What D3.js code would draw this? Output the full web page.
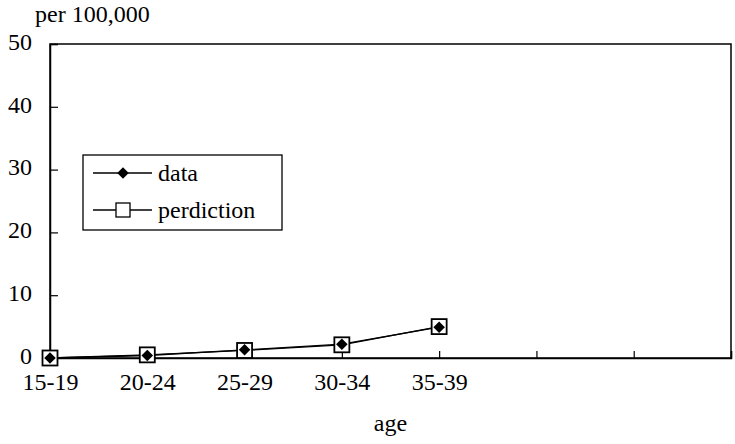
<!DOCTYPE html>
<html>
<head>
<meta charset="utf-8">
<script src="https://cdn.jsdelivr.net/npm/d3@7"></script>
<style>
  body { margin: 0; background: #fff; }
  text { font-family: "Liberation Serif", "Times New Roman", serif; fill: #000; }
</style>
</head>
<body>
<div id="chart"></div>
<script>
// categories along the x axis (last three have no label)
var ageGroups = ["15-19", "20-24", "25-29", "30-34", "35-39", "40-44", "45-49", "50-54"];
var ageLabels = ["15-19", "20-24", "25-29", "30-34", "35-39", "", "", ""];
var dataValues = [0, 0.4, 1.3, 2.2, 4.9];
var predictionValues = [0, 0.5, 1.2, 2.1, 5.0];
var yTicks = [0, 10, 20, 30, 40, 50];

var margin = { top: 44, right: 4, bottom: 86, left: 50 };
var width = 735 - margin.left - margin.right,
  height = 444 - margin.top - margin.bottom;

var svg = d3.select("#chart")
  .append("svg")
  .attr("width", width + margin.left + margin.right)
  .attr("height", height + margin.top + margin.bottom)
  .append("g")
  .attr("transform", "translate(" + margin.left + "," + margin.top + ")");

var x = d3.scalePoint()
  .domain(ageGroups)
  .range([0, width]);

var y = d3.scaleLinear()
  .domain([0, 50])
  .range([height, 0]);

// frame
svg.append("rect")
  .attr("x", 0).attr("y", 0)
  .attr("width", width).attr("height", height)
  .attr("fill", "none")
  .attr("stroke", "#000")
  .attr("stroke-width", 1.5);

var xAxis = d3.axisBottom(x)
  .tickSize(-7)
  .tickPadding(15)
  .tickFormat(function (d, i) { return ageLabels[i]; });

var yAxis = d3.axisLeft(y)
  .tickValues(yTicks)
  .tickSize(-8)
  .tickPadding(18);

var gx = svg.append("g")
  .attr("transform", "translate(0," + height + ")")
  .call(xAxis);
gx.select(".domain").attr("stroke-width", 1.5);
gx.selectAll(".tick line").attr("stroke-width", 1.2);
gx.selectAll("text").style("font-size", "24px").attr("font-family", null);

var gy = svg.append("g").call(yAxis);
gy.select(".domain").attr("stroke-width", 1.5);
gy.selectAll(".tick line").attr("stroke-width", 1.2);
gy.selectAll("text").style("font-size", "24px").attr("font-family", null).attr("dy", "0.22em");

// series lines
var line = d3.line()
  .x(function (d, i) { return x(ageGroups[i]); })
  .y(function (d) { return y(d); });

svg.append("path")
  .datum(predictionValues)
  .attr("d", line)
  .attr("fill", "none")
  .attr("stroke", "#000")
  .attr("stroke-width", 1.3);

svg.append("path")
  .datum(dataValues)
  .attr("d", line)
  .attr("fill", "none")
  .attr("stroke", "#000")
  .attr("stroke-width", 1.3);

// prediction markers: hollow squares
svg.selectAll(".pred")
  .data(predictionValues)
  .enter()
  .append("rect")
  .attr("class", "pred")
  .attr("x", function (d, i) { return x(ageGroups[i]) - 7.5; })
  .attr("y", function (d) { return y(d) - 7.5; })
  .attr("width", 15).attr("height", 15)
  .attr("fill", "#fff")
  .attr("stroke", "#000")
  .attr("stroke-width", 1.8);

// data markers: diamonds
var diamond = d3.symbol().type(d3.symbolDiamond2).size(85);
svg.selectAll(".dat")
  .data(dataValues)
  .enter()
  .append("path")
  .attr("class", "dat")
  .attr("d", diamond)
  .attr("transform", function (d, i) { return "translate(" + x(ageGroups[i]) + "," + y(d) + ")"; })
  .attr("fill", "#000");

// legend
var lg = svg.append("g").attr("transform", "translate(33,111)");
lg.append("rect")
  .attr("width", 199).attr("height", 75)
  .attr("fill", "#fff")
  .attr("stroke", "#000")
  .attr("stroke-width", 1.3);
lg.append("line").attr("x1", 10).attr("x2", 69).attr("y1", 18).attr("y2", 18).attr("stroke", "#000").attr("stroke-width", 1.5);
lg.append("path").attr("d", diamond).attr("transform", "translate(40,18)").attr("fill", "#000");
lg.append("line").attr("x1", 10).attr("x2", 69).attr("y1", 55).attr("y2", 55).attr("stroke", "#000").attr("stroke-width", 1.5);
lg.append("rect").attr("x", 33).attr("y", 48).attr("width", 14).attr("height", 14)
  .attr("fill", "#fff").attr("stroke", "#000").attr("stroke-width", 1.3);
lg.append("text").attr("x", 75).attr("y", 26).style("font-size", "24px").text("data");
lg.append("text").attr("x", 75).attr("y", 63).style("font-size", "24px").text("perdiction");

// axis titles
svg.append("text")
  .attr("x", -15)
  .attr("y", -22)
  .style("font-size", "24px")
  .text("per 100,000");

svg.append("text")
  .attr("x", width / 2)
  .attr("y", height + 73)
  .attr("text-anchor", "middle")
  .style("font-size", "24px")
  .text("age");
</script>
</body>
</html>
